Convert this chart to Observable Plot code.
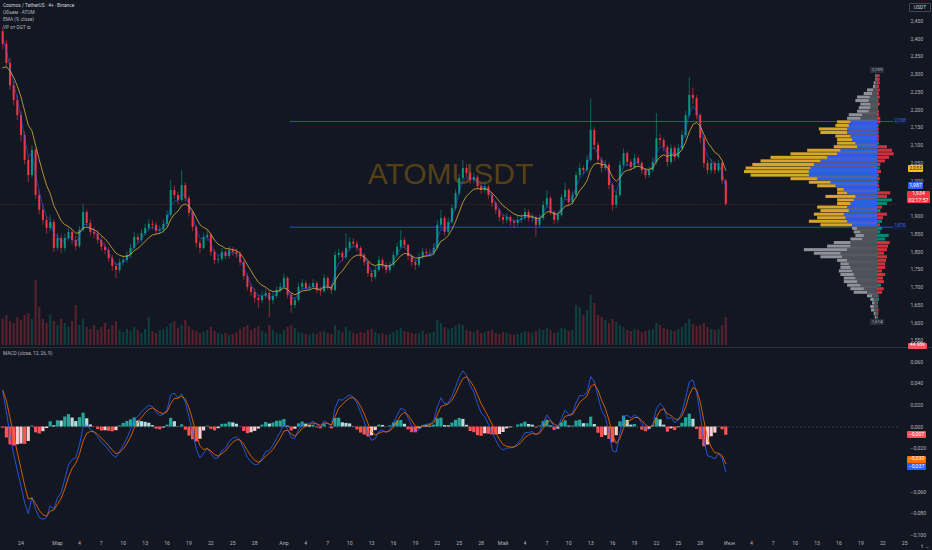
<!DOCTYPE html>
<html><head><meta charset="utf-8">
<script src="https://cdn.jsdelivr.net/npm/d3@7"></script>
<script src="https://cdn.jsdelivr.net/npm/@observablehq/plot@0.6"></script>
<style>
html,body{margin:0;padding:0;background:#131722;}
#wrap{position:relative;width:932px;height:550px;overflow:hidden;background:#131722;font-family:Roboto,"Liberation Sans",sans-serif;}
#wrap svg{position:absolute;left:0;}
.lbl{position:absolute;font-size:5.2px;line-height:1;white-space:nowrap;text-align:center;box-sizing:border-box;display:flex;flex-direction:column;justify-content:center;align-items:center;border-radius:1px;}
.leg{position:absolute;left:3px;font-size:4.8px;line-height:1;color:#b2b5be;white-space:nowrap;}
</style></head><body><div id="wrap"></div>
<script>
// ---------- data (prices in thousandths of USDT, 12h candles) ----------
const firstOpen = 2420;
const closes = [2385,2331,2268,2227,2184,2128,2058,2015,2086,1959,
1917,1889,1866,1883,1810,1838,1810,1838,1855,1832,
1815,1861,1911,1880,1855,1850,1832,1813,1804,1781,
1759,1748,1770,1776,1790,1810,1841,1832,1852,1866,
1878,1875,1858,1861,1878,1903,1973,1959,1945,1987,
1950,1909,1869,1824,1810,1841,1847,1799,1776,1779,
1799,1787,1804,1799,1793,1770,1731,1700,1686,1669,
1663,1675,1683,1663,1675,1691,1700,1725,1678,1649,
1663,1700,1711,1697,1700,1711,1691,1688,1725,1700,
1691,1790,1796,1784,1810,1827,1822,1810,1790,1770,
1739,1728,1748,1776,1762,1748,1762,1790,1813,1832,
1818,1787,1770,1762,1784,1799,1795,1796,1810,1875,
1894,1855,1883,1922,1965,2007,2035,2021,2001,2010,
1984,1973,1982,1959,1937,1917,1897,1889,1897,1885,
1880,1889,1894,1911,1894,1897,1875,1894,1931,1950,
1911,1889,1903,1953,1973,1939,1959,2015,2035,2029,
2058,2142,2100,2058,2035,2044,1987,1931,1959,2044,
2077,2052,2038,2063,2049,2029,2015,2029,2052,2119,
2114,2094,2052,2091,2066,2091,2128,2184,2241,2232,
2184,2119,2049,2029,2049,2029,2049,2000,1934];
const highs = [2432,2395,2345,2280,2240,2195,2138,2070,2098,2090,
1972,1930,1898,1902,1890,1852,1848,1850,1868,1862,
1845,1872,1935,1918,1890,1868,1860,1842,1825,1812,
1790,1768,1780,1788,1800,1822,1855,1850,1862,1878,
1890,1888,1882,1872,1890,1915,2001,1985,1968,2029,
1995,1958,1915,1875,1832,1852,1860,1852,1806,1790,
1810,1805,1815,1812,1808,1800,1775,1738,1708,1695,
1678,1688,1695,1690,1685,1702,1712,1738,1730,1685,
1672,1712,1722,1718,1710,1722,1716,1700,1736,1730,
1708,1800,1808,1802,1852,1840,1838,1830,1816,1795,
1776,1746,1758,1786,1782,1770,1772,1800,1825,1860,
1840,1822,1792,1776,1795,1810,1808,1806,1822,1888,
1917,1900,1895,1932,1975,2018,2058,2045,2028,2022,
2015,1992,1995,1988,1965,1942,1922,1905,1908,1902,
1892,1900,1905,1922,1918,1908,1902,1905,1942,1973,
1955,1916,1914,1962,1993,1978,1970,2025,2048,2042,
2070,2232,2150,2108,2065,2058,2050,1992,1968,2055,
2090,2082,2060,2075,2070,2055,2035,2040,2064,2190,
2130,2120,2100,2102,2098,2102,2140,2196,2291,2262,
2240,2190,2125,2058,2060,2055,2058,2055,2005];
const lows = [2370,2318,2255,2212,2170,2110,2045,1995,2008,1948,
1905,1875,1850,1858,1798,1802,1795,1800,1830,1820,
1803,1810,1855,1870,1845,1838,1822,1802,1792,1770,
1745,1725,1740,1760,1768,1782,1805,1822,1825,1845,
1858,1862,1848,1848,1852,1870,1898,1948,1932,1940,
1940,1898,1858,1812,1795,1805,1830,1788,1765,1766,
1772,1778,1780,1788,1782,1760,1720,1690,1675,1655,
1640,1655,1668,1615,1652,1668,1685,1695,1668,1627,
1640,1658,1692,1688,1688,1695,1682,1675,1684,1692,
1680,1688,1780,1772,1778,1802,1812,1800,1780,1760,
1728,1715,1722,1742,1752,1738,1740,1756,1784,1808,
1808,1776,1758,1748,1755,1778,1785,1784,1788,1805,
1868,1845,1850,1878,1915,1958,2000,2010,1990,1992,
1975,1962,1965,1948,1925,1905,1885,1876,1880,1872,
1866,1872,1880,1888,1884,1882,1841,1868,1888,1925,
1902,1876,1880,1898,1945,1930,1932,1952,2008,2018,
2022,2052,2088,2045,2022,2028,1975,1915,1922,1952,
2038,2042,2028,2030,2040,2018,2005,2008,2022,2045,
2100,2082,2040,2045,2055,2060,2085,2120,2178,2215,
2172,2105,2035,2018,2020,2018,2022,1990,1928];
const volumes = [260,300,240,220,280,250,300,320,260,650,
380,260,220,300,240,200,260,220,180,240,
400,200,260,180,160,200,150,180,220,160,
200,240,150,130,160,140,180,150,120,160,
280,140,120,150,160,180,220,240,170,200,
250,190,150,140,120,130,150,180,140,120,
110,120,100,110,130,160,180,200,150,170,
190,140,120,200,150,120,110,150,180,200,
170,130,120,110,100,120,110,130,140,120,
110,200,150,130,180,140,120,110,130,120,
150,160,130,110,120,100,110,130,150,170,
140,130,120,110,120,140,110,120,130,250,
220,180,160,170,190,210,200,150,140,130,
150,120,130,140,150,120,110,130,120,110,
100,110,120,140,130,120,140,160,150,170,
150,120,130,170,160,140,150,400,380,300,
350,500,420,300,280,250,220,260,230,200,
180,150,140,160,150,130,140,150,160,220,
200,170,160,150,140,160,180,220,260,210,
190,200,220,180,160,150,160,200,280];

// volume profile rows (lower edge of each 0.01 price row, ascending)
const vpLow = [1.61,1.62,1.63,1.64,1.65,1.66,1.67,1.68,1.69,1.70,
1.71,1.72,1.73,1.74,1.75,1.76,1.77,1.78,1.79,1.80,
1.81,1.82,1.83,1.84,1.85,1.86,1.87,1.88,1.89,1.90,
1.91,1.92,1.93,1.94,1.95,1.96,1.97,1.98,1.99,2.00,
2.01,2.02,2.03,2.04,2.05,2.06,2.07,2.08,2.09,2.10,
2.11,2.12,2.13,2.14,2.15,2.16,2.17,2.18,2.19,2.20,
2.21,2.22,2.23,2.24,2.25,2.26,2.27,2.28,2.29];
const vpTotal = [23,33,60,67,50,67,100,233,267,300,
333,333,367,383,367,367,400,567,633,733,
500,433,267,217,233,250,567,683,600,633,
567,600,400,400,517,400,400,600,683,867,
1267,1333,1317,1250,1167,1067,867,700,433,400,
400,417,567,583,417,400,300,283,200,183,
167,217,200,133,100,40,33,17,17];
const vpInner = [10,17,27,33,27,33,50,100,133,167,
200,217,233,250,267,283,300,350,367,300,
267,267,150,133,167,200,250,300,317,333,
283,300,267,233,217,300,333,417,467,600,
683,683,667,633,567,500,400,367,200,217,
250,267,300,300,283,267,167,150,83,67,
67,83,73,50,40,17,17,7,7];
const vpDelta = [-10,-13,-17,10,-10,20,17,-50,-67,40,
-70,-60,-83,-50,-83,-83,-90,-100,-70,-100,
-110,-127,80,117,33,50,-30,50,-60,-100,
33,-50,100,150,-100,-133,27,-20,17,-27,
20,-40,27,-33,-80,-120,-167,-150,-100,20,
-17,-20,17,-17,17,-33,-33,-20,-20,-10,
-27,-15,-27,-20,-27,-20,-27,-27,-27];
const vpStep = 0.01;
const valueArea = [1.8697, 2.1675];       // VAL, VAH
const vpFrom = new Date(Date.UTC(2025,3,1,21,30));

// axis ticks (those hidden behind the price labels in the reference are left out)
const priceTicks = [1.55,1.60,1.65,1.70,1.75,1.80,1.85,1.90,2.00,2.05,2.10,2.15,2.20,2.25,2.30,2.35,2.40,2.45];
const macdTicks = [0.06,0.04,0.02,0,-0.02,-0.06,-0.08,-0.10];
const xTickDates = ["2025-02-24","2025-03-01","2025-03-04","2025-03-07","2025-03-10","2025-03-13","2025-03-16","2025-03-19","2025-03-22","2025-03-25","2025-03-28",
"2025-04-01","2025-04-04","2025-04-07","2025-04-10","2025-04-13","2025-04-16","2025-04-19","2025-04-22","2025-04-25","2025-04-28",
"2025-05-01","2025-05-04","2025-05-07","2025-05-10","2025-05-13","2025-05-16","2025-05-19","2025-05-22","2025-05-25","2025-05-28",
"2025-06-01","2025-06-04","2025-06-07","2025-06-10","2025-06-13","2025-06-16","2025-06-19","2025-06-22","2025-06-25"];
const xTickLabels = ["24","Мар","4","7","10","13","16","19","22","25","28",
"Апр","4","7","10","13","16","19","22","25","28",
"Май","4","7","10","13","16","19","22","25","28",
"Июн","4","7","10","13","16","19","22","25"];

// label values
const axisPriceLabels = {ema: 2.033, fast: 1.987, last: 1.934, countdown: "02:17:57"};
const macdLabels = {hist: -0.007, signal: -0.030, macd: -0.037};
const lastVolumeText = "44.98K";
const vpEdgeLabels = [2.299, 1.614];

// indicator parameters (4h bars, candles here are 12h = 3 bars)
const barsPerCandle = 3;
const macdParams = [12, 26, 9];
const macdSeed = [2.40, 2.355, 0.035];
const emaSlowPeriod = 24, emaSlowSeed = 2.30;

// ---------- build ----------
const T0 = new Date(Date.UTC(2025,1,21,4,42));
const T1 = new Date(Date.UTC(2025,5,24,10,5));
const firstCandle = Date.UTC(2025,1,21,12,0);
const H12 = 12*3600e3;
const alphaOf = n => 1 - Math.pow(1 - 2/(n+1), barsPerCandle);
const UP = "#089981", DN = "#f23645";

const candles = closes.map((c,i) => {
  const o = i ? closes[i-1] : firstOpen;
  return {t: new Date(firstCandle + i*H12), o:o/1000, c:c/1000, h:highs[i]/1000, l:lows[i]/1000, v:volumes[i], up: c >= o};
});
{
  const aF = alphaOf(macdParams[0]), aS = alphaOf(macdParams[1]), aG = alphaOf(macdParams[2]);
  const aY = alphaOf(emaSlowPeriod);
  let f = macdSeed[0], s = macdSeed[1], g = macdSeed[2], eb = firstOpen/1000, ey = emaSlowSeed;
  candles.forEach((d,i) => {
    f = aF*d.c + (1-aF)*f; s = aS*d.c + (1-aS)*s;
    d.macd = f - s; g = aG*d.macd + (1-aG)*g; d.signal = g; d.hist = d.macd - d.signal;
    eb = aG*d.c + (1-aG)*eb; ey = aY*d.c + (1-aY)*ey; d.emaFast = eb; d.emaSlow = ey;
    const p = i ? candles[i-1].hist : d.hist;
    d.histColor = d.hist >= 0 ? (d.hist >= p ? "#26a69a" : "#b2dfdb") : (d.hist <= p ? "#ff5252" : "#ffcdd2");
    d.col = d.up ? UP : DN;
  });
}
const vpRows = vpLow.map((lo,i) => {
  const mid = lo + vpStep/2;
  return {lo, hi: lo + vpStep, total: vpTotal[i], inner: vpInner[i], delta: vpDelta[i],
          inVA: mid > valueArea[0] && mid < valueArea[1]};
});
const lastClose = candles[candles.length-1].c;
const fmt3 = v => (v < -1e-9 ? "−" : "") + Math.abs(v).toFixed(3).replace(".", ",");
const labelMap = new Map(xTickDates.map((s,i) => [+new Date(s + "T00:00:00Z"), xTickLabels[i]]));

const W = 932, PH = 347, MH = 203;
const xOpt = {type:"utc", domain:[T0,T1], range:[0,900]};
const yPriceDomain = [1.5308, 2.5083];
const base = {width:W, height:PH, marginTop:0, marginBottom:0, marginLeft:0, marginRight:32,
  style:{background:"transparent", overflow:"visible"}, color:{type:"identity"}};

const volChart = Plot.plot({...base,
  x:{...xOpt, axis:null}, y:{domain:[0,1000], range:[345,245], axis:null},
  marks:[Plot.ruleX(candles, {x:"t", y1:0, y2:"v", stroke:"col", strokeWidth:2.2, strokeOpacity:0.3})]
});

const priceChart = Plot.plot({...base,
  x:{...xOpt, axis:null}, y:{domain:yPriceDomain, range:[PH,0]},
  marks:[
    Plot.text(["ATOMUSDT"], {text:d=>d, frameAnchor:"middle", fontSize:30, fill:"#f7a600", fillOpacity:0.3, fontFamily:"Liberation Sans, Arial, sans-serif"}),
    Plot.ruleY(valueArea, {x1:()=>vpFrom, x2:()=>T1, stroke:"#2962ff", strokeWidth:0.9, strokeOpacity:0.85}),
    Plot.ruleY([lastClose], {stroke:DN, strokeOpacity:0.6, strokeWidth:0.6, strokeDasharray:"1,1.5"}),
    Plot.ruleX(candles, {x:"t", y1:"l", y2:"h", stroke:"col", strokeWidth:0.6}),
    Plot.ruleX(candles, {x:"t", y1:"o", y2:"c", stroke:"col", strokeWidth:2.0}),
    Plot.line(candles, {x:"t", y:"emaFast", stroke:"#2962ff", strokeWidth:0.7, strokeOpacity:0.8}),
    Plot.line(candles, {x:"t", y:"emaSlow", stroke:"#d8b040", strokeWidth:0.8}),
    Plot.axisY(priceTicks, {anchor:"right", tickSize:0, tickPadding:10, tickFormat:fmt3, fontSize:5.2, fill:"#b2b5be", fontFamily:"Roboto"})
  ]
});

const vpChart = Plot.plot({...base,
  x:{domain:[0,1333], range:[877,744], axis:null}, y:{domain:yPriceDomain, range:[PH,0], axis:null},
  marks:[
    Plot.rect(vpRows, {x1:0, x2:"total", y1:"lo", y2:"hi", fill:d=>d.inVA?"#d6a52a":"#8f929a", insetTop:0.25, insetBottom:0.25}),
    Plot.rect(vpRows, {x1:0, x2:"inner", y1:"lo", y2:"hi", fill:d=>d.inVA?"#2f5ee6":"#4f525a", insetTop:0.25, insetBottom:0.25}),
    Plot.rect(vpRows, {x1:0, x2:d=>-Math.abs(d.delta), y1:"lo", y2:"hi", fill:d=>d.delta>=0?UP:DN, fillOpacity:0.85, insetTop:0.25, insetBottom:0.25})
  ]
});

const macdChart = Plot.plot({width:W, height:MH, marginTop:0, marginBottom:10, marginLeft:0, marginRight:32,
  style:{background:"transparent", overflow:"visible"}, color:{type:"identity"},
  x:xOpt, y:{domain:[-0.1046, 0.0733], range:[193,0]},
  marks:[
    Plot.ruleY([0], {stroke:"#787b86", strokeOpacity:0.6, strokeDasharray:"2,2", strokeWidth:0.6}),
    Plot.ruleX(candles, {x:"t", y1:0, y2:"hist", stroke:"histColor", strokeWidth:3.2}),
    Plot.line(candles, {x:"t", y:"macd", stroke:"#2962ff", strokeWidth:0.8}),
    Plot.line(candles, {x:"t", y:"signal", stroke:"#ff6d00", strokeWidth:0.8}),
    Plot.axisY(macdTicks, {anchor:"right", tickSize:0, tickPadding:10, tickFormat:fmt3, fontSize:5.2, fill:"#b2b5be", fontFamily:"Roboto"}),
    Plot.axisX(xTickDates.map(s=>new Date(s+"T00:00:00Z")), {anchor:"bottom", tickSize:0, tickPadding:1, tickFormat:d=>labelMap.get(+d), fontSize:5.2, fill:"#b2b5be", fontFamily:"Roboto"})
  ]
});

const wrap = document.getElementById("wrap");
[volChart, priceChart, vpChart].forEach(s => { s.style.top = "0px"; wrap.appendChild(s); });
macdChart.style.top = PH + "px"; wrap.appendChild(macdChart);

// separator
const sep = document.createElement("div");
sep.style.cssText = `position:absolute;left:0;top:${PH}px;width:${W}px;height:1px;background:#2a2e39;`;
wrap.appendChild(sep);

function box(html, left, top, w, h, bg, color, extra="") {
  const d = document.createElement("div");
  d.className = "lbl";
  d.style.cssText = `left:${left}px;top:${top}px;width:${w}px;height:${h}px;background:${bg};color:${color};${extra}`;
  d.innerHTML = html; wrap.appendChild(d); return d;
}
const yP = priceChart.scale("y"), yM = macdChart.scale("y");
box("USDT", 909, 3, 22, 9, "transparent", "#d1d4dc", "border:0.6px solid #434651;font-size:5px;");
box(fmt3(axisPriceLabels.ema), 908, yP.apply(axisPriceLabels.ema)-3.25, 15, 6.5, "#f5c21b", "#131722");
box(fmt3(axisPriceLabels.fast), 908, yP.apply(axisPriceLabels.fast)-2.8, 15, 6.3, "#2962ff", "#ffffff");
box(fmt3(axisPriceLabels.last) + "<br>" + axisPriceLabels.countdown, 907, yP.apply(axisPriceLabels.last)-13, 23, 12, DN, "#ffffff", "line-height:1.25;");
valueArea.forEach(v => box(fmt3(Math.round(v*1000)/1000), 893, yP.apply(v)-3, 14, 6, "#131c3a", "#3f66e0", "font-size:4.6px;"));
vpEdgeLabels.forEach((v,i) => box(fmt3(v), 870, yP.apply(v) + (i ? 1.5 : -7.5), 14, 6, "#2a2e39", "#b2b5be", "font-size:4.4px;"));
box(lastVolumeText, 908, 342.6, 19, 6, "#f7525f", "#ffffff", "font-size:4.8px;");
box(fmt3(macdLabels.hist), 907, PH + yM.apply(macdLabels.hist) - 3.5, 19, 7, "#f7525f", "#ffffff");
box(fmt3(macdLabels.signal), 907, PH + yM.apply(macdLabels.signal) - 3.5, 19, 7, "#ff6d00", "#ffffff");
box(fmt3(macdLabels.macd), 907, PH + yM.apply(macdLabels.macd) - 3.5, 19, 7, "#2962ff", "#ffffff");

// legends
[["Cosmos / TetherUS · 4ч · Binance", 3.5, "#d1d4dc"], ["Объем · ATOM", 11, "#b2b5be"], ["EMA (9, close)", 18.2, "#b2b5be"], ["VP от DGT ⧉", 25.5, "#b2b5be"], ["MACD (close, 12, 26, 9)", PH + 5, "#b2b5be"]]
  .forEach(([t, top, c]) => { const d = document.createElement("div"); d.className = "leg"; d.style.top = top + "px"; d.style.color = c; d.textContent = t; wrap.appendChild(d); });
</script>
</body></html>
